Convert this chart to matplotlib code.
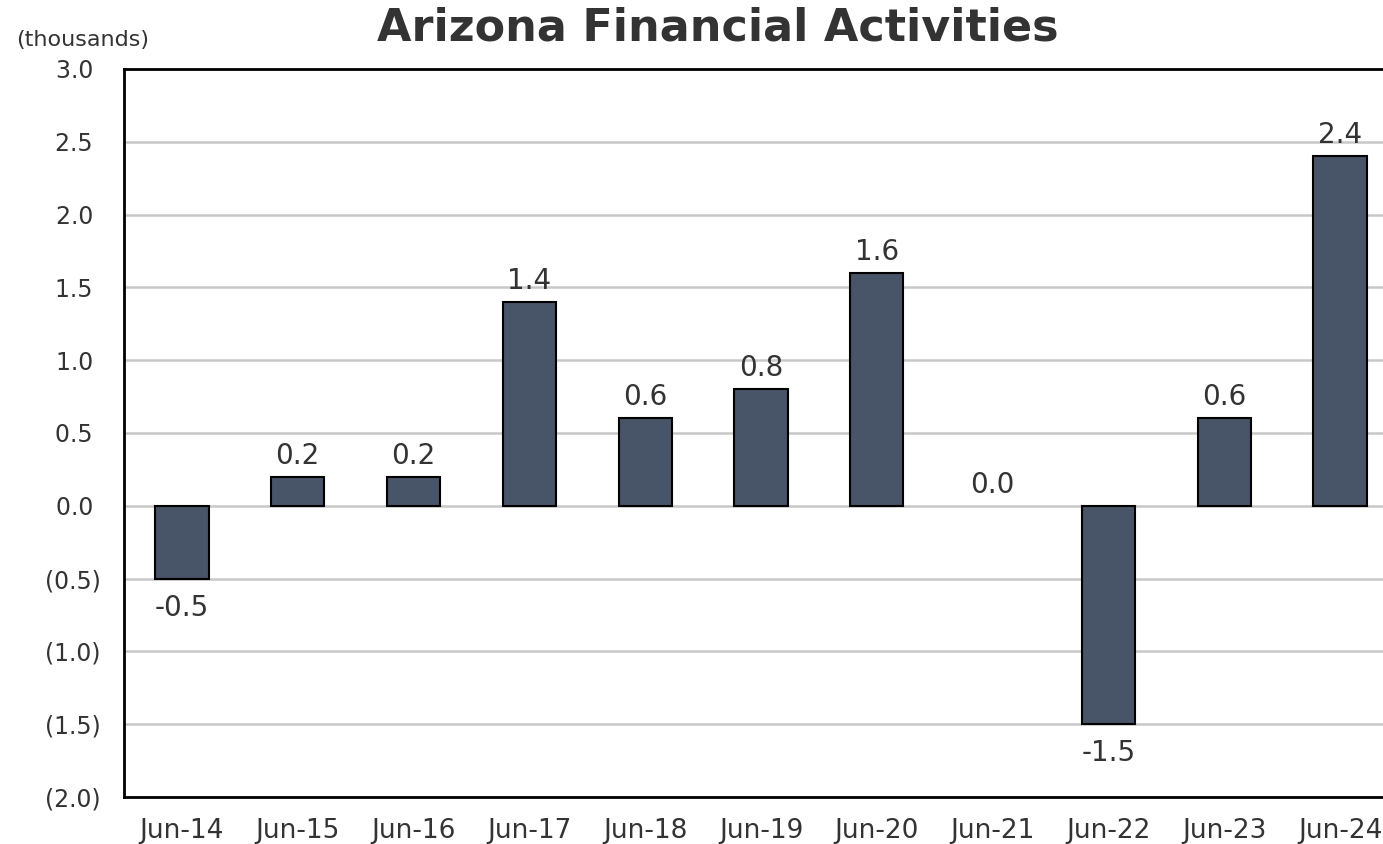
import matplotlib
matplotlib.use("Agg")
import matplotlib.pyplot as plt
from matplotlib.ticker import FuncFormatter

categories = ["Jun-14", "Jun-15", "Jun-16", "Jun-17", "Jun-18", "Jun-19",
              "Jun-20", "Jun-21", "Jun-22", "Jun-23", "Jun-24"]
values = [-0.5, 0.2, 0.2, 1.4, 0.6, 0.8, 1.6, 0.0, -1.5, 0.6, 2.4]
title = "Arizona Financial Activities"
unit_label = "(thousands)"

plt.rcParams['font.family'] = ['DejaVu Sans']
text_color = "#333333"

fig = plt.figure(figsize=(13.83, 8.44), dpi=100)
ax = fig.add_axes([124/1383, 47/844, 1274/1383, 728/844])

x = list(range(len(categories)))
lws = [0 if v == 0 else 1.5 for v in values]
ax.bar(x, values, width=0.46, color="#485467", edgecolor="black",
       linewidth=lws, zorder=3)

ax.set_xlim(-0.5, len(categories) - 0.5)
ax.set_ylim(-2.0, 3.0)
ax.set_yticks([-2.0, -1.5, -1.0, -0.5, 0.0, 0.5, 1.0, 1.5, 2.0, 2.5, 3.0])

def fmt(v, pos):
    if abs(v) < 1e-9:
        return "0.0 "
    if v < 0:
        return "({:.1f})".format(-v)
    return "{:.1f} ".format(v)

ax.yaxis.set_major_formatter(FuncFormatter(fmt))
ax.set_xticks(x)
ax.set_xticklabels(categories)
ax.tick_params(axis='y', length=0, pad=17, labelsize=17, labelcolor=text_color)
ax.tick_params(axis='x', length=0, pad=15, labelsize=19, labelcolor=text_color)

ax.grid(axis='y', color="#c8c8c8", linewidth=1.8, zorder=0)
ax.set_axisbelow(True)

for s in ['left', 'bottom', 'top']:
    ax.spines[s].set_linewidth(2)
    ax.spines[s].set_color("black")
ax.spines['right'].set_visible(False)

for xi, v in zip(x, values):
    if v < 0:
        ax.annotate("{:.1f}".format(v), (xi, v), xytext=(0, -11),
                    textcoords="offset points", ha="center", va="top",
                    fontsize=20, color=text_color)
    else:
        ax.annotate("{:.1f}".format(v), (xi, v), xytext=(0, 5),
                    textcoords="offset points", ha="center", va="bottom",
                    fontsize=20, color=text_color)

fig.text(718/1383, 1 - 28/844, title, ha="center", va="center",
         fontsize=32, fontweight="bold", color=text_color)
fig.text(16/1383, 1 - 40/844, unit_label, ha="left", va="center",
         fontsize=16, color=text_color)

fig.savefig("out.png", dpi=100)
